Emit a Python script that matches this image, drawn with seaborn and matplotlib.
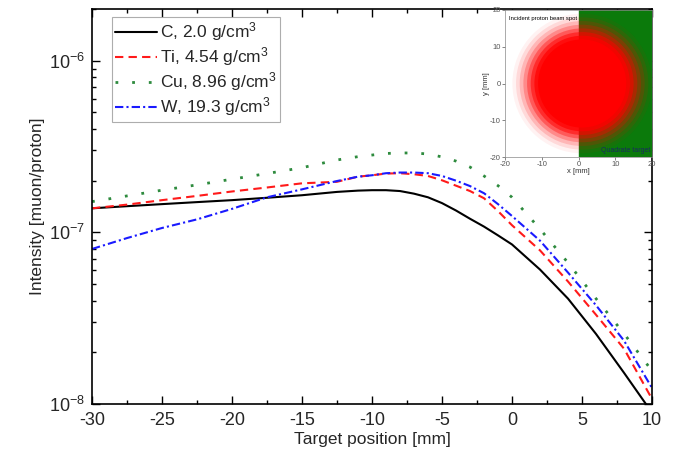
import matplotlib
matplotlib.use("Agg")
import matplotlib.pyplot as plt
from matplotlib.patches import Rectangle, Circle
from matplotlib.ticker import MultipleLocator, LogLocator, NullFormatter
import seaborn as sns
import pandas as pd

sns.set_theme(style="ticks")
plt.rcParams['font.family'] = ['Liberation Sans', 'DejaVu Sans']
plt.rcParams['mathtext.fontset'] = 'custom'
plt.rcParams['mathtext.rm'] = 'Liberation Sans'
plt.rcParams['mathtext.it'] = 'Liberation Sans:italic'
plt.rcParams['axes.unicode_minus'] = False

# target position [mm]
position = [-30, -27.5, -25, -22.5, -20, -17.5, -15, -12.5, -11, -10, -9, -8, -7,
            -6, -5, -4, -3, -2, -1, 0, 2, 4, 6, 8, 10]

# muon intensity [muon/proton]
carbon = [1.38e-7, 1.42e-7, 1.46e-7, 1.50e-7, 1.54e-7, 1.59e-7, 1.645e-7, 1.72e-7,
          1.75e-7, 1.76e-7, 1.76e-7, 1.74e-7, 1.68e-7, 1.60e-7, 1.48e-7, 1.34e-7,
          1.20e-7, 1.08e-7, 9.6e-8, 8.5e-8, 6.07e-8, 4.11e-8, 2.56e-8, 1.52e-8,
          8.9e-9]
titanium = [1.38e-7, 1.45e-7, 1.54e-7, 1.63e-7, 1.73e-7, 1.825e-7, 1.93e-7, 1.97e-7,
            2.11e-7, 2.15e-7, 2.20e-7, 2.21e-7, 2.18e-7, 2.13e-7, 2.01e-7, 1.87e-7,
            1.74e-7, 1.58e-7, 1.33e-7, 1.10e-7, 7.85e-8, 5.17e-8, 3.31e-8, 2.10e-8,
            1.07e-8]
copper = [1.51e-7, 1.63e-7, 1.76e-7, 1.89e-7, 2.04e-7, 2.20e-7, 2.38e-7, 2.64e-7,
          2.76e-7, 2.82e-7, 2.88e-7, 2.90e-7, 2.90e-7, 2.86e-7, 2.75e-7, 2.60e-7,
          2.40e-7, 2.13e-7, 1.87e-7, 1.60e-7, 1.045e-7, 6.65e-8, 4.11e-8, 2.57e-8,
          1.56e-8]
tungsten = [8.0e-8, 9.26e-8, 1.06e-7, 1.19e-7, 1.37e-7, 1.60e-7, 1.78e-7, 1.99e-7,
            2.11e-7, 2.15e-7, 2.21e-7, 2.23e-7, 2.23e-7, 2.21e-7, 2.13e-7, 2.00e-7,
            1.86e-7, 1.69e-7, 1.46e-7, 1.245e-7, 8.94e-8, 5.83e-8, 3.76e-8, 2.34e-8,
            1.24e-8]

labels = ['C, 2.0 g/cm$^3$', 'Ti, 4.54 g/cm$^3$', 'Cu, 8.96 g/cm$^3$', 'W, 19.3 g/cm$^3$']
colors = ['black', '#ff1a1a', '#2e8b3e', '#1a1aff']
dash_styles = ['', (4, 2.5), (1, 5), (4, 1.5, 1, 1.5)]

# inset: beam spot and target (mm)
beam_center = (1, 0)
beam_radii = [19, 18, 17, 16, 15, 14, 13, 12]
beam_alpha = [0.05, 0.1, 0.16, 0.24, 0.35, 0.5, 0.7, 1.0]
target_x = [0, 20]

df = pd.concat([pd.DataFrame({'pos': position, 'I': vals, 'mat': lab})
                for vals, lab in zip([carbon, titanium, copper, tungsten], labels)])

fig = plt.figure(figsize=(6.77, 4.58), dpi=100)
ax = fig.add_axes([92/677, 1-404/458, 560/677, 395/458])
ax.set_yscale('log')
sns.lineplot(data=df, x='pos', y='I', hue='mat', style='mat', hue_order=labels,
             style_order=labels, palette=dict(zip(labels, colors)),
             dashes=dict(zip(labels, dash_styles)), ax=ax, legend=False,
             linewidth=1.5)
for ln in ax.lines:
    ln.set_dash_capstyle('butt')
ax.lines[2].set_linewidth(2)

ax.set_xlim(-30, 10)
ax.set_ylim(1e-8, 2e-6)
ax.xaxis.set_major_locator(MultipleLocator(5))
ax.xaxis.set_minor_locator(MultipleLocator(2.5))
ax.yaxis.set_major_locator(LogLocator(base=10))
ax.yaxis.set_minor_locator(LogLocator(base=10, subs=range(2, 10)))
ax.yaxis.set_minor_formatter(NullFormatter())
ax.tick_params(which='both', direction='in', top=True, right=True, width=1,
               color='black', labelsize=13)
ax.tick_params(which='major', length=6)
ax.tick_params(which='minor', length=3)
ax.tick_params(axis='x', pad=6)
ax.tick_params(axis='y', pad=5)
for sp in ax.spines.values():
    sp.set_linewidth(1.2)
    sp.set_color('black')
ax.set_xlabel('Target position [mm]', fontsize=12.5, labelpad=2)
ax.set_ylabel('Intensity [muon/proton]', fontsize=12.5, labelpad=3)

leg = ax.legend(ax.lines, labels, loc='upper left', fontsize=12.5,
                bbox_to_anchor=(112/677, 1-17/458), bbox_transform=fig.transFigure,
                borderaxespad=0, fancybox=False, edgecolor='#999999',
                handlelength=2.4, labelspacing=0.12, handletextpad=0.15,
                borderpad=0.2)
leg.get_frame().set_linewidth(0.8)

# inset with beam spot on target
ins = fig.add_axes([505/677, 1-157/458, 147/677, 147/458])
ins.set_xlim(-20, 20)
ins.set_ylim(-20, 20)
ins.add_patch(Rectangle((target_x[0], -20), target_x[1]-target_x[0], 40,
                        color='#0b7a0b', zorder=0))
for r, a in zip(beam_radii, beam_alpha):
    ins.add_patch(Circle(beam_center, r, color='#ff0000', alpha=a, lw=0, zorder=1))
ins.set_xticks([-20, -10, 0, 10, 20])
ins.set_yticks([-20, -10, 0, 10, 20])
ins.tick_params(labelsize=5.5, length=2, width=0.5, colors='#555555', pad=1)
for sp in ins.spines.values():
    sp.set_linewidth(0.5)
    sp.set_color('#888888')
ins.set_xlabel('x [mm]', fontsize=5.5, labelpad=0, color='#333333')
ins.set_ylabel('y [mm]', fontsize=5.5, labelpad=0, color='#333333')
ins.text(-19, 18.5, 'Incident proton beam spot', fontsize=4.2, va='top', color='black')
ins.text(19.5, -19.3, 'Quadrate target', fontsize=5, ha='right', va='bottom',
         color='#1a2a60')

fig.savefig('out.png', dpi=100)
